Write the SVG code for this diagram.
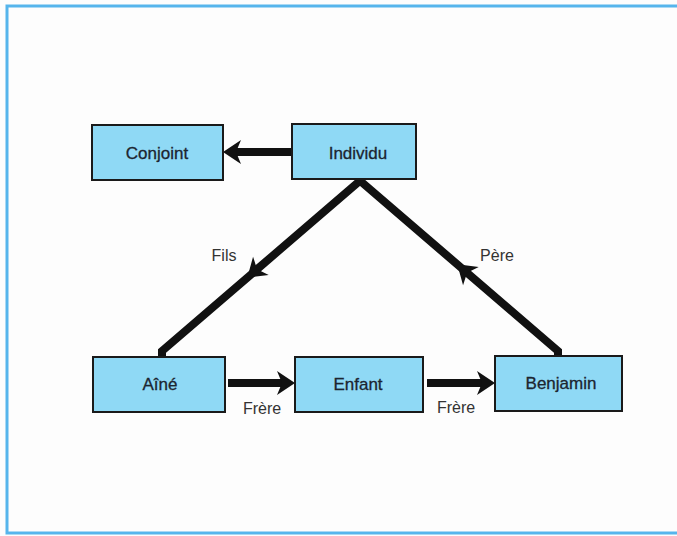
<svg xmlns="http://www.w3.org/2000/svg" width="677" height="536" viewBox="0 0 677 536">
<defs>
<path id="ah" d="M1,0 L-17,-12 L-12,0 L-17,12 Z" fill="#111"/>
</defs>
<style>
.frame{fill:#fdfdfd;stroke:#56b5ec;stroke-width:3}
.box{fill:#8fd9f5;stroke:#1a1a1a;stroke-width:2}
.lbl{font-family:"Liberation Sans",Arial,sans-serif;font-size:17px;fill:#1c2530;stroke:#1c2530;stroke-width:0.3;text-anchor:middle;dominant-baseline:central}
.edge{fill:none;stroke:#111;stroke-width:8}
.elbl{font-family:"Liberation Sans",Arial,sans-serif;font-size:16px;fill:#333;text-anchor:middle}
</style>
<rect x="0" y="0" width="677" height="536" fill="#fdfdfd"/>
<rect class="frame" x="7" y="6" width="680" height="527"/>
<g id="connectors">
<line class="edge" x1="291" y1="152" x2="236" y2="152"/>
<use href="#ah" transform="translate(224,152) rotate(180)"/>
<line class="edge" x1="228" y1="383" x2="284" y2="383"/>
<use href="#ah" transform="translate(294,383)"/>
<line class="edge" x1="427" y1="383" x2="484" y2="383"/>
<use href="#ah" transform="translate(494,383)"/>
<polyline class="edge" points="362,179 162,351 162,357" stroke-linejoin="miter"/>
<use href="#ah" transform="translate(248,277) rotate(139.3)"/>
<polyline class="edge" points="558,357 558,351 358,179" stroke-linejoin="miter"/>
<use href="#ah" transform="translate(458,265) rotate(220.7)"/>
<text class="elbl" x="224" y="261">Fils</text>
<text class="elbl" x="497" y="261">Père</text>
<text class="elbl" x="262" y="414">Frère</text>
<text class="elbl" x="456" y="413">Frère</text>
</g>
<g id="conjoint"><rect class="box" x="92" y="125" width="131" height="55"/><text class="lbl" x="157" y="153">Conjoint</text></g>
<g id="individu"><rect class="box" x="292" y="124" width="124" height="55"/><text class="lbl" x="358" y="153">Individu</text></g>
<g id="aine"><rect class="box" x="93" y="357" width="132" height="55"/><text class="lbl" x="160" y="384">Aîné</text></g>
<g id="enfant"><rect class="box" x="295" y="357" width="128" height="55"/><text class="lbl" x="358" y="384">Enfant</text></g>
<g id="benjamin"><rect class="box" x="495" y="356" width="127" height="55"/><text class="lbl" x="561" y="383">Benjamin</text></g>
</svg>
